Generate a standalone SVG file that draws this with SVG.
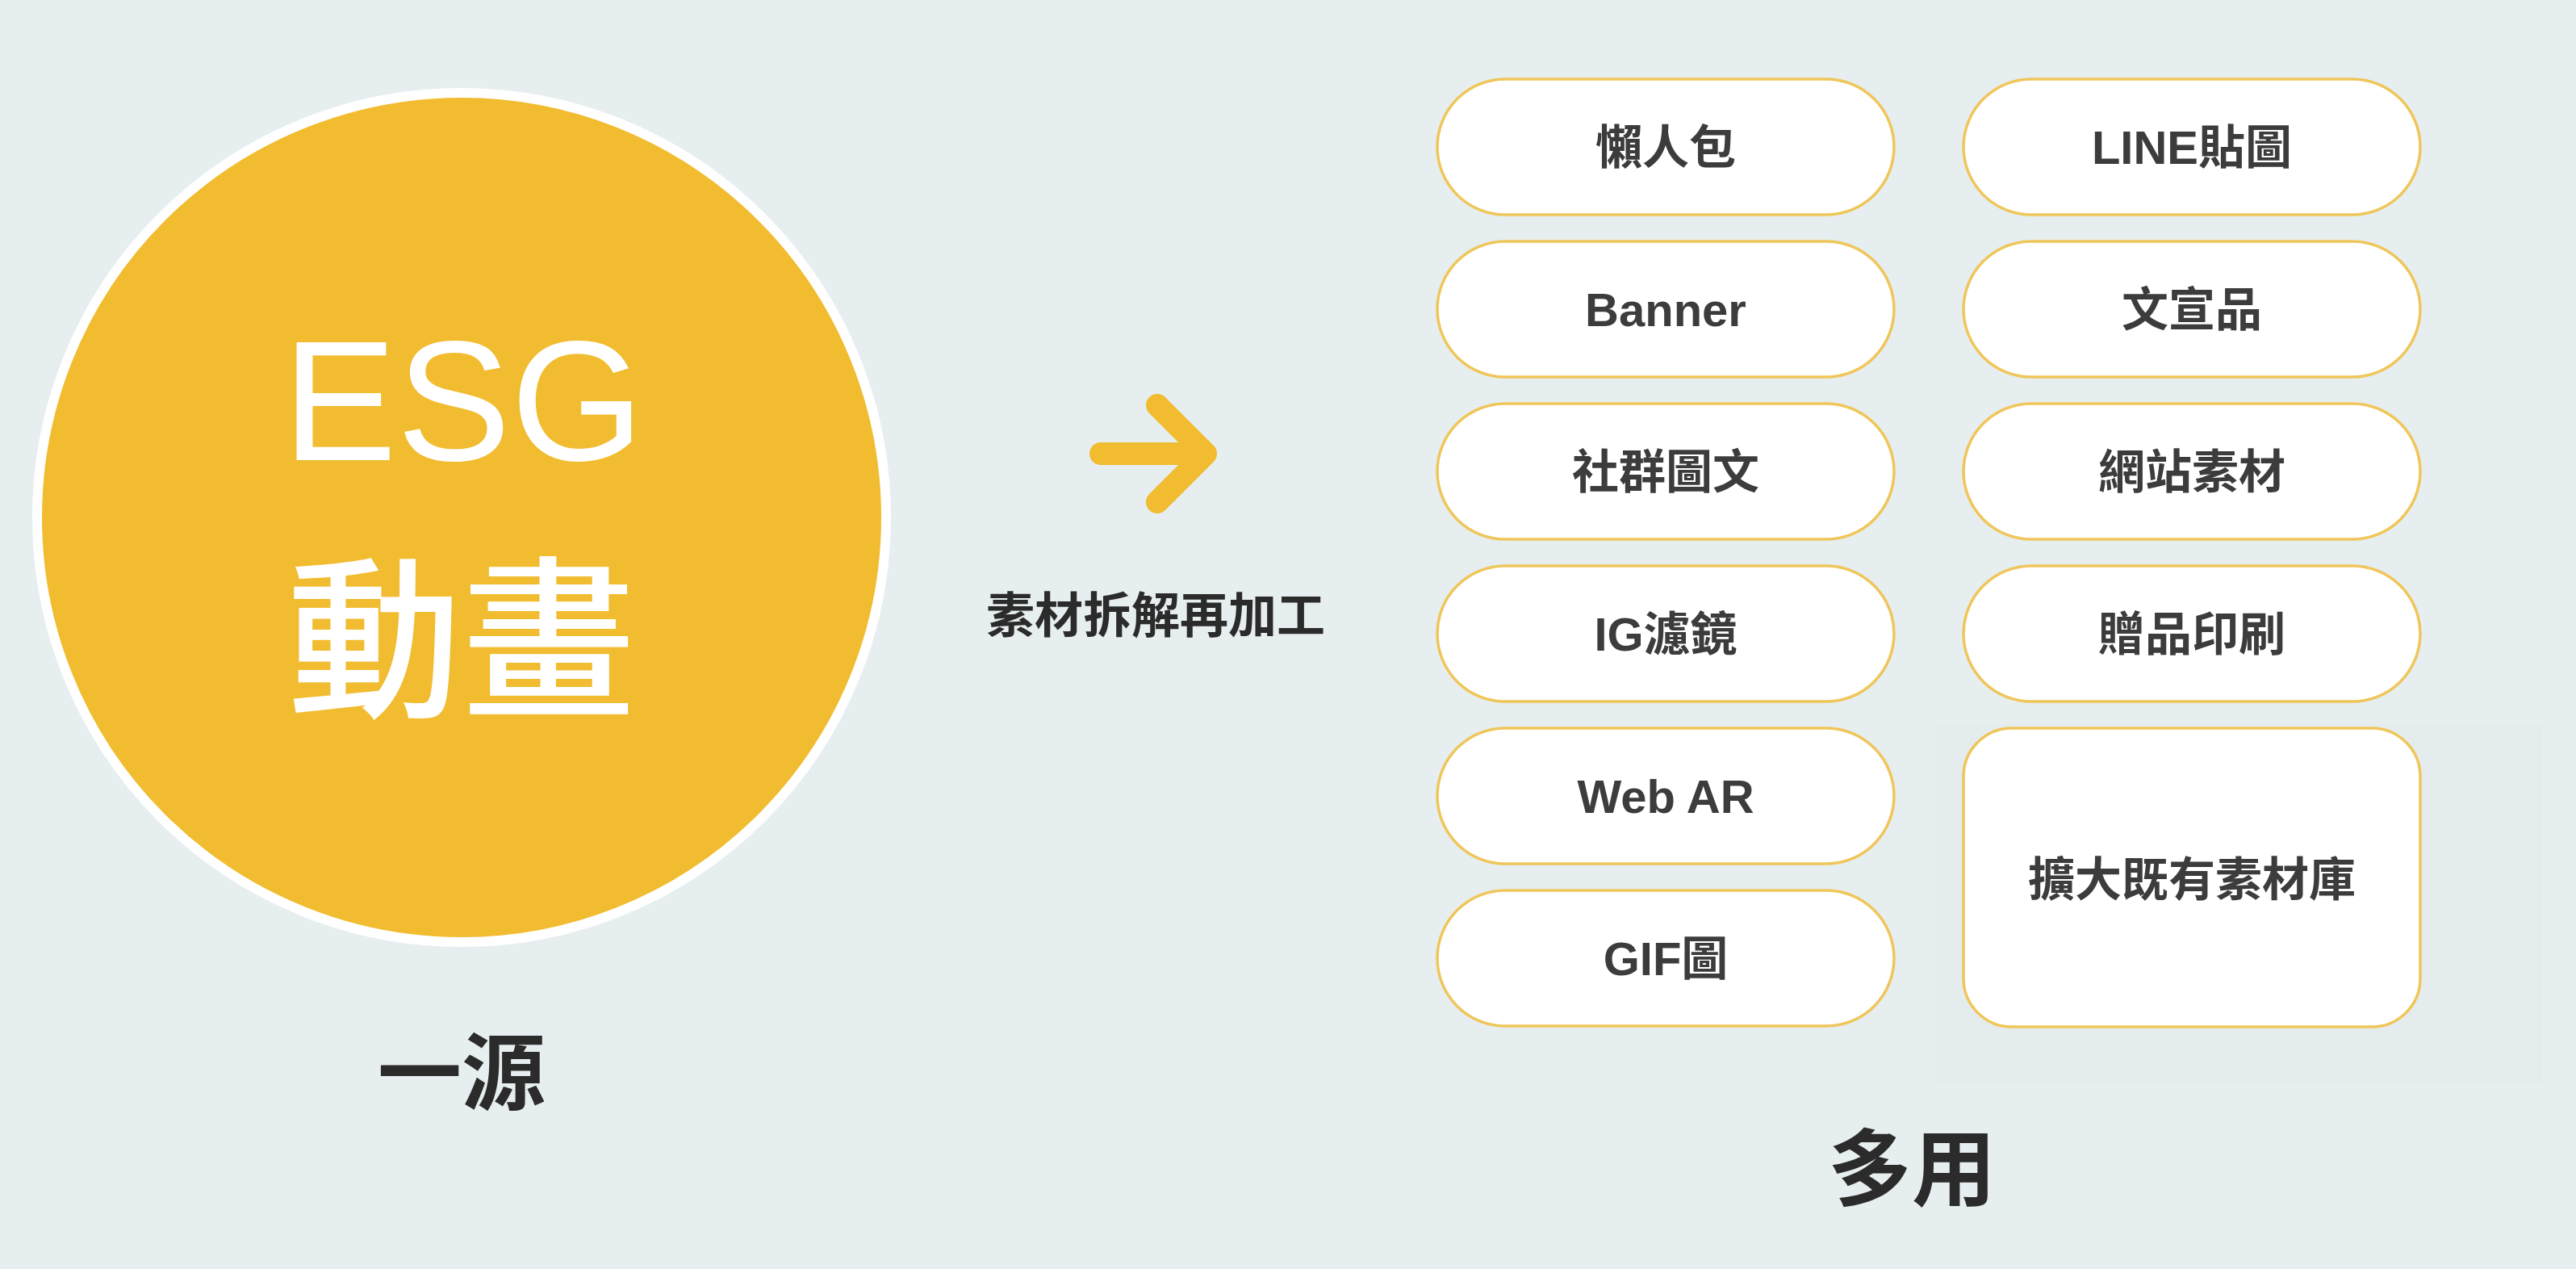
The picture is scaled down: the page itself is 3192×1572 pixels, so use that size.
<svg xmlns="http://www.w3.org/2000/svg" width="3192" height="1572" viewBox="0 0 3192 1572">
<style>
.pill{fill:#ffffff;stroke:#efc65a;stroke-width:3.5}
.pt{font-family:"Liberation Sans","Noto Sans CJK TC",sans-serif;font-weight:bold;font-size:58px;fill:#3c3c3c;text-anchor:middle}
.big{font-family:"Liberation Sans","Noto Sans CJK TC",sans-serif;fill:#ffffff;text-anchor:middle}
.lbl{font-family:"Noto Sans CJK TC",sans-serif;font-weight:bold;fill:#2b2b2b;text-anchor:middle}
</style>
<rect x="0" y="0" width="3192" height="1572" fill="#e7eef0"/>
<rect x="2400" y="896" width="750" height="446" fill="#e5ecee"/>

<g id="source">
<circle cx="572" cy="641" r="526" fill="#f1bc30" stroke="#ffffff" stroke-width="12"/>
<text class="big" x="574" y="570" font-size="212">ESG</text>
<text class="big" x="572" y="872" font-size="216" font-family="Noto Sans CJK TC,sans-serif" font-weight="500">動畫</text>
</g>
<g id="label-source"><text class="lbl" x="572" y="1367" font-size="104">一源</text></g>
<g id="label-uses"><text class="lbl" x="2369" y="1486" font-size="104">多用</text></g>

<g id="connectors">
<path d="M1364 562 H1492 M1434 502 L1494 562 L1434 622" fill="none" stroke="#f1bc30" stroke-width="28" stroke-linecap="round" stroke-linejoin="round"/>
<text class="lbl" x="1432" y="784" font-size="60">素材拆解再加工</text>
</g>

<g id="n1"><rect class="pill" x="1781" y="98" width="566" height="168" rx="84"/><text class="pt" x="2064" y="203">懶人包</text></g>
<g id="n2"><rect class="pill" x="1781" y="299" width="566" height="168" rx="84"/><text class="pt" x="2064" y="404">Banner</text></g>
<g id="n3"><rect class="pill" x="1781" y="500" width="566" height="168" rx="84"/><text class="pt" x="2064" y="605">社群圖文</text></g>
<g id="n4"><rect class="pill" x="1781" y="701" width="566" height="168" rx="84"/><text class="pt" x="2064" y="806">IG濾鏡</text></g>
<g id="n5"><rect class="pill" x="1781" y="902" width="566" height="168" rx="84"/><text class="pt" x="2064" y="1007">Web AR</text></g>
<g id="n6"><rect class="pill" x="1781" y="1103" width="566" height="168" rx="84"/><text class="pt" x="2064" y="1208">GIF圖</text></g>

<g id="n7"><rect class="pill" x="2433" y="98" width="566" height="168" rx="84"/><text class="pt" x="2716" y="203">LINE貼圖</text></g>
<g id="n8"><rect class="pill" x="2433" y="299" width="566" height="168" rx="84"/><text class="pt" x="2716" y="404">文宣品</text></g>
<g id="n9"><rect class="pill" x="2433" y="500" width="566" height="168" rx="84"/><text class="pt" x="2716" y="605">網站素材</text></g>
<g id="n10"><rect class="pill" x="2433" y="701" width="566" height="168" rx="84"/><text class="pt" x="2716" y="806">贈品印刷</text></g>
<g id="n11"><rect class="pill" x="2433" y="902" width="566" height="370" rx="60"/><text class="pt" x="2716" y="1110">擴大既有素材庫</text></g>
</svg>
